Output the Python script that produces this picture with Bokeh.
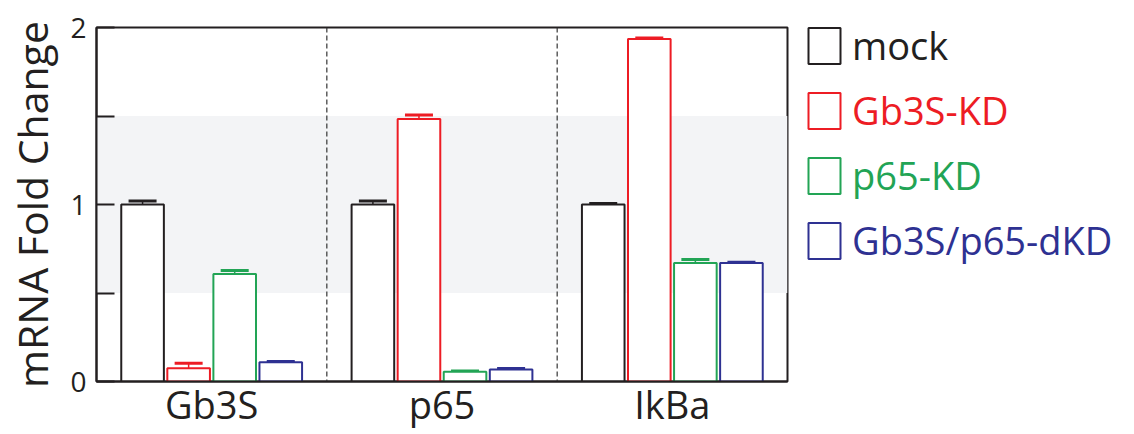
from bokeh.plotting import figure
from bokeh.layouts import row
from bokeh.models import (ColumnDataSource, FactorRange, Range1d, FixedTicker,
                          BoxAnnotation, Span, Whisker, TeeHead, Legend, LegendItem)
from bokeh.transform import dodge
from bokeh.embed import file_html
from bokeh.resources import INLINE

# ---------------- data ----------------
genes = ["Gb3S", "p65", "IkBa"]
conditions = ["mock", "Gb3S-KD", "p65-KD", "Gb3S/p65-dKD"]
colors = ["#231f20", "#ed1c24", "#22a455", "#2e3192"]

mock = [1.00, 1.00, 1.00]
mock_err = [0.020, 0.020, 0.005]
gb3s_kd = [0.075, 1.483, 1.935]
gb3s_kd_err = [0.028, 0.022, 0.005]
p65_kd = [0.608, 0.055, 0.670]
p65_kd_err = [0.019, 0.005, 0.019]
dkd = [0.109, 0.068, 0.670]
dkd_err = [0.004, 0.006, 0.004]

y_ticks = [0, 1, 2]
y_minor_ticks = [0.5, 1.5]
band = (0.5, 1.5)

values = [mock, gb3s_kd, p65_kd, dkd]
errors = [mock_err, gb3s_kd_err, p65_kd_err, dkd_err]

# ---------------- main figure ----------------
FONT = "Open Sans"
INK = "#231f20"
p = figure(width=800, height=434, x_range=FactorRange(*genes, range_padding=0),
           y_range=Range1d(0, 2), output_backend="svg", toolbar_location=None,
           min_border_left=96, min_border_right=13, min_border_top=27,
           min_border_bottom=53)
p.xgrid.visible = False
p.ygrid.visible = False
p.outline_line_color = INK
p.outline_line_width = 2
p.background_fill_color = "white"
p.border_fill_color = "white"

p.add_layout(BoxAnnotation(bottom=band[0], top=band[1], fill_color="#f3f4f6",
                           fill_alpha=1, line_alpha=0, level="underlay"))
for i in range(1, len(genes)):
    p.add_layout(Span(location=i, dimension="height", line_color="#333333",
                      line_width=1.2, line_dash="5 3"))

src = {"gene": genes}
for k, (v, e) in enumerate(zip(values, errors)):
    src[f"v{k}"] = v
    src[f"u{k}"] = [a + b for a, b in zip(v, e)]
    src[f"l{k}"] = [a - b for a, b in zip(v, e)]
source = ColumnDataSource(src)

offsets = [-0.3, -0.1, 0.1, 0.3]
for k, cond in enumerate(conditions):
    c = colors[k]
    p.vbar(x=dodge("gene", offsets[k], range=p.x_range), top=f"v{k}", width=0.185,
           source=source, fill_color="white", line_color=c, line_width=2)
    w = Whisker(source=source, base=dodge("gene", offsets[k], range=p.x_range),
                upper=f"u{k}", lower=f"l{k}", line_color=c, line_width=1.5,
                upper_head=TeeHead(size=28, line_color=c, line_width=3),
                lower_head=TeeHead(size=28, line_color=c, line_width=3))
    p.add_layout(w)

# axes
ya = p.yaxis[0]
ya.ticker = FixedTicker(ticks=y_ticks, minor_ticks=y_minor_ticks)
ya.axis_label = "mRNA Fold Change"
ya.axis_label_text_font = FONT
ya.axis_label_text_font_size = "41px"
ya.axis_label_text_font_style = "normal"
ya.axis_label_text_color = INK
ya.axis_label_standoff = 7
ya.major_label_text_font = FONT
ya.major_label_text_font_size = "28px"
ya.major_label_text_color = INK
ya.major_label_standoff = 10
ya.major_tick_in = 18
ya.major_tick_out = 0
ya.minor_tick_in = 18
ya.minor_tick_out = 0
ya.major_tick_line_width = 2
ya.minor_tick_line_width = 2
ya.axis_line_width = 2
ya.major_tick_line_color = INK
ya.minor_tick_line_color = INK
ya.axis_line_color = INK

xa = p.xaxis[0]
xa.major_label_text_font = FONT
xa.major_label_text_font_size = "38px"
xa.major_label_text_color = INK
xa.major_label_standoff = -4
xa.major_tick_in = 0
xa.major_tick_out = 0
xa.axis_line_width = 2
xa.axis_line_color = INK

# ---------------- legend panel ----------------
lf = figure(width=334, height=434, x_range=Range1d(0, 1), y_range=Range1d(0, 1),
            x_axis_location=None, y_axis_location=None,
            output_backend="svg", toolbar_location=None, min_border=0)
lf.grid.visible = False
lf.outline_line_color = None
lf.background_fill_color = "white"
lf.border_fill_color = "white"

# legend swatches take their style from these bar renderers (no visible data)
NAN = float("nan")
for k, cond in enumerate(conditions):
    r = lf.vbar(x=[NAN], top=[NAN], width=0.1, fill_color="white",
                line_color=colors[k], line_width=2)
    leg = Legend(items=[LegendItem(label=cond, renderers=[r])],
                 location=(4, 308 - 65 * k), orientation="vertical",
                 glyph_width=40, glyph_height=45, label_height=56,
                 label_standoff=8, padding=0, margin=0, spacing=0,
                 border_line_color=None, background_fill_alpha=0,
                 label_text_font=FONT, label_text_font_size="38px",
                 label_text_color=colors[k])
    lf.add_layout(leg)

layout = row(p, lf)
open("out.html", "w").write(file_html(layout, INLINE))
